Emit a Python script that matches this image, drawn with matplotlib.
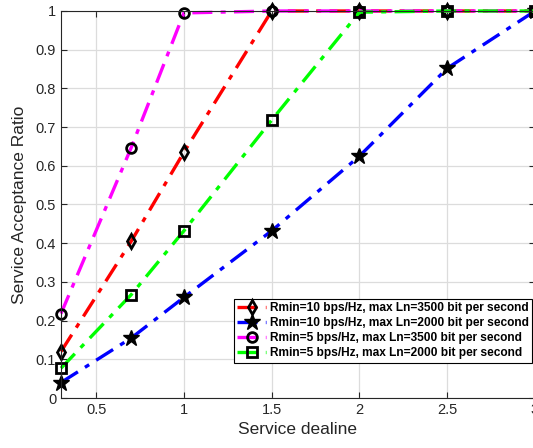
import matplotlib
matplotlib.use("Agg")
import matplotlib.pyplot as plt

x = [0.3, 0.7, 1.0, 1.5, 2.0, 2.5, 3.0]
red_r10_3500 = [0.12, 0.405, 0.635, 1.0, 1.0, 1.0, 1.0]
blue_r10_2000 = [0.04, 0.155, 0.26, 0.432, 0.625, 0.852, 1.0]
mag_r5_3500 = [0.218, 0.647, 0.995, 1.0, 1.0, 1.0, 1.0]
green_r5_2000 = [0.077, 0.267, 0.432, 0.718, 0.997, 1.0, 1.0]
labels = ["Rmin=10 bps/Hz, max Ln=3500 bit per second",
          "Rmin=10 bps/Hz, max Ln=2000 bit per second",
          "Rmin=5 bps/Hz, max Ln=3500 bit per second",
          "Rmin=5 bps/Hz, max Ln=2000 bit per second"]
xticks = [0.5, 1, 1.5, 2, 2.5, 3]
yticks = [0, 0.1, 0.2, 0.3, 0.4, 0.5, 0.6, 0.7, 0.8, 0.9, 1]

plt.rcParams['font.family'] = ['Liberation Sans', 'DejaVu Sans']
fig = plt.figure(figsize=(5.33, 4.48), dpi=100)
ax = fig.add_axes([61/533, 50/448, (535-61)/533, (398-11)/448])

kw = dict(linestyle='-.', linewidth=2.4, markersize=7, markeredgecolor='k', markeredgewidth=2.0,
          clip_on=False, dashes=(6, 2.5, 1.5, 2.5))
ax.plot(x, red_r10_3500, color='#ff0000', marker='d', markerfacecolor='none', label=labels[0], **kw)
ax.plot(x, blue_r10_2000, color='#0000ff', marker='*', markerfacecolor='k', label=labels[1],
        linestyle='-.', linewidth=2.4, markersize=12, markeredgecolor='k', markeredgewidth=1,
        clip_on=False, dashes=(6, 2.5, 1.5, 2.5))
ax.plot(x, mag_r5_3500, color='#ff00ff', marker='o', markerfacecolor='none', label=labels[2], **kw)
ax.plot(x, green_r5_2000, color='#00ff00', marker='s', markerfacecolor='none', label=labels[3], **kw)

ax.set_xlim(0.3, 3)
ax.set_ylim(0, 1)
ax.set_xticks(xticks)
ax.set_xticklabels(['0.5', '1', '1.5', '2', '2.5', '3'])
ax.set_yticks(yticks)
ax.set_yticklabels(['0', '0.1', '0.2', '0.3', '0.4', '0.5', '0.6', '0.7', '0.8', '0.9', '1'])
ax.grid(True, color='#dcdcdc', linewidth=0.9)
ax.set_axisbelow(True)
ax.tick_params(direction='in', top=True, right=True, labelsize=10.5, colors='#262626', length=4)
for s in ax.spines.values():
    s.set_color('#262626')
    s.set_linewidth(0.8)
ax.set_xlabel('Service dealine', fontsize=12.5, color='#262626', labelpad=4)
ax.set_ylabel('Service Acceptance Ratio', fontsize=12.5, color='#262626', labelpad=6)

leg = ax.legend(loc='lower right', bbox_to_anchor=(1 - 3/474, 35/387), prop={'weight': 'bold', 'size': 8.6},
                frameon=True, fancybox=False, edgecolor='k', framealpha=1,
                handlelength=2.4, handletextpad=0.3, labelspacing=0.25, borderpad=0.3, borderaxespad=0)
leg.get_frame().set_linewidth(0.8)

fig.savefig('out.png', dpi=100)
